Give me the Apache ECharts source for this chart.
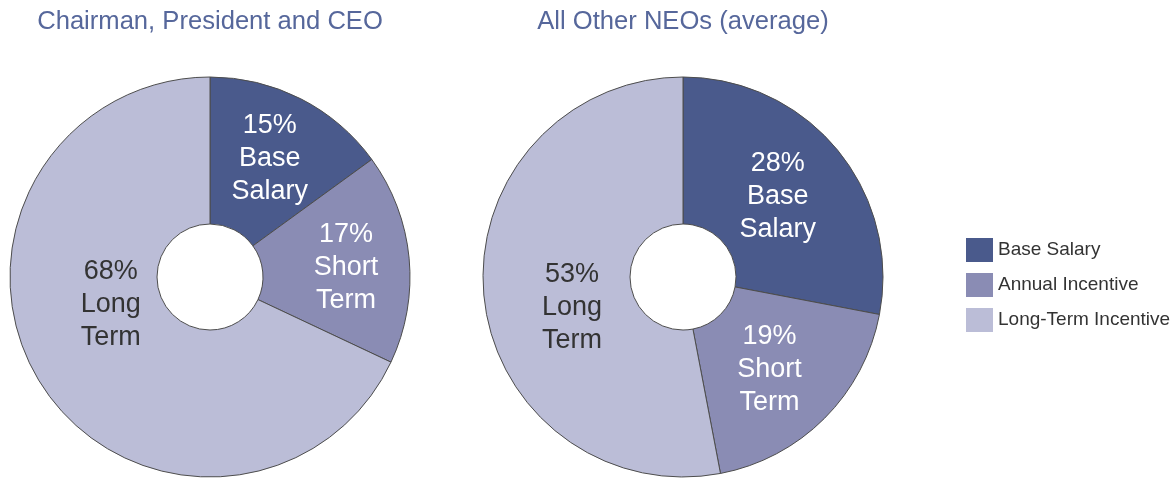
<!DOCTYPE html>
<html>
<head>
<meta charset="utf-8">
<script src="https://cdn.jsdelivr.net/npm/echarts@6/dist/echarts.min.js"></script>
<style>
  html, body { margin: 0; padding: 0; background: #fff; }
  #chart { width: 1176px; height: 478px; }
</style>
</head>
<body>
<div id="chart"></div>
<script>
const categories = ["Base Salary", "Annual Incentive", "Long-Term Incentive"];
const labelNames = ["Base\nSalary", "Short\nTerm", "Long\nTerm"];
const ceoValues = [15, 17, 68];
const neoValues = [28, 19, 53];
const titles = ["Chairman, President and CEO", "All Other NEOs (average)"];

const colors = ["#4a5a8c", "#8a8cb4", "#bbbdd7"];
const labelColors = ["#ffffff", "#ffffff", "#333333"];

// nudges for inside labels, per slice
const ceoShift = [[1, -3], [7, 3], [10, -42]];
const neoShift = [[-5, 2], [-5, 1], [18, 18]];

const chart = echarts.init(document.getElementById("chart"));

const buildData = (values) =>
  values.map((v, i) => ({
    name: categories[i],
    value: v,
    itemStyle: { color: colors[i] },
    label: { color: labelColors[i] },
  }));

const pieSeries = (values, cx, shift) => ({
  type: "pie",
  center: [cx, 277],
  radius: [53, 200],
  startAngle: 90,
  clockwise: true,
  silent: true,
  animation: false,
  data: buildData(values),
  itemStyle: { borderColor: "#4d4d4d", borderWidth: 1 },
  label: {
    show: true,
    position: "inside",
    fontFamily: "Liberation Sans, Arial, sans-serif",
    fontSize: 27,
    lineHeight: 33,
    align: "center",
    formatter: (p) => p.value + "%\n" + labelNames[p.dataIndex],
  },
  labelLine: { show: false },
  labelLayout: (p) => ({ dx: shift[p.dataIndex][0], dy: shift[p.dataIndex][1] }),
});

const titleStyle = {
  color: "#56679b",
  fontSize: 25.6,
  fontWeight: "normal",
  fontFamily: "Liberation Sans, Arial, sans-serif",
};

chart.setOption({
  backgroundColor: "#ffffff",
  title: [
    { text: titles[0], left: 210, top: 9, padding: 0, textAlign: "center", textStyle: titleStyle },
    { text: titles[1], left: 683, top: 9, padding: 0, textAlign: "center", textStyle: titleStyle },
  ],
  legend: {
    orient: "vertical",
    left: 966,
    top: 238,
    padding: 0,
    itemWidth: 27,
    itemHeight: 24,
    itemGap: 11,
    icon: "rect",
    selectedMode: false,
    data: categories,
    itemStyle: { borderWidth: 0 },
    textStyle: { color: "#333333", fontSize: 19, fontFamily: "Liberation Sans, Arial, sans-serif", padding: [0, 0, 0, 0] },
  },
  series: [pieSeries(ceoValues, 210, ceoShift), pieSeries(neoValues, 683, neoShift)],
});
</script>
</body>
</html>
